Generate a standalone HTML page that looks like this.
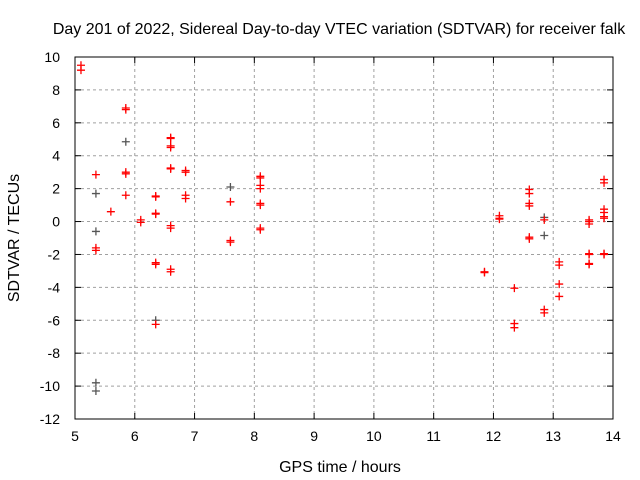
<!DOCTYPE html>
<html><head><meta charset="utf-8"><style>
body{margin:0;background:#fff}
svg{display:block;font-family:"Liberation Sans",sans-serif;font-size:14px}
.t{font-size:16px}
</style></head><body>
<svg id="c" width="640" height="480">
<text class="t" x="339" y="34" text-anchor="middle">Day 201 of 2022, Sidereal Day-to-day VTEC variation (SDTVAR) for receiver falk</text>
<text class="t" x="340" y="472" text-anchor="middle">GPS time / hours</text>
<text class="t" transform="translate(19,238) rotate(-90)" text-anchor="middle">SDTVAR / TECUs</text>
<g id="grid"></g><g id="marks"></g>
<rect x="75" y="57" width="538" height="362" fill="none" stroke="#000" stroke-width="1"/>
</svg>
<script>
const xTicks=[5,6,7,8,9,10,11,12,13,14];
const yTicks=[10,8,6,4,2,0,-2,-4,-6,-8,-10,-12];
const redX=[5.1,5.1,5.35,5.35,5.35,5.6,5.85,5.85,5.85,5.85,5.85,6.1,6.1,6.35,6.35,6.35,6.35,6.35,6.35,6.35,6.6,6.6,6.6,6.6,6.6,6.6,6.6,6.6,6.6,6.6,6.85,6.85,6.85,6.85,7.6,7.6,7.6,8.1,8.1,8.1,8.1,8.1,8.1,8.1,8.1,11.85,11.85,12.1,12.1,12.1,12.35,12.35,12.35,12.6,12.6,12.6,12.6,12.6,12.6,12.85,12.85,12.85,13.1,13.1,13.1,13.1,13.6,13.6,13.6,13.6,13.6,13.6,13.6,13.85,13.85,13.85,13.85,13.85,13.85,13.85,13.85];
const redY=[9.5,9.2,2.85,-1.6,-1.75,0.6,6.9,6.8,3.0,2.9,1.6,0.1,-0.05,1.55,1.5,0.5,0.45,-2.5,-2.6,-6.25,5.1,5.05,4.6,4.5,3.25,3.2,-0.25,-0.4,-2.9,-3.05,3.1,3.0,1.6,1.4,1.2,-1.15,-1.25,2.75,2.65,2.2,2.0,1.1,1.0,-0.4,-0.5,-3.05,-3.1,0.35,0.2,0.15,-4.05,-6.2,-6.45,1.95,1.7,1.1,0.95,-0.95,-1.05,0.1,-5.35,-5.55,-2.45,-2.65,-3.8,-4.55,0.1,0.0,-0.15,-1.95,-2.0,-2.55,-2.6,2.55,2.35,0.75,0.55,0.3,0.2,-1.95,-2.0];
const grayX=[5.35,5.35,5.35,5.35,5.85,6.35,7.6,12.85,12.85];
const grayY=[1.7,-0.6,-9.8,-10.3,4.85,-6.0,2.1,0.25,-0.85];
const X=v=>75+(v-5)*538/9, Y=v=>57+(10-v)*362/22;
const NS='http://www.w3.org/2000/svg';
const g=document.getElementById('grid'),m=document.getElementById('marks');
function el(t,a,p){const e=document.createElementNS(NS,t);for(const k in a)e.setAttribute(k,a[k]);p.appendChild(e);return e;}
xTicks.forEach(t=>{const x=X(t);
 if(t>5&&t<14){const l=el('line',{x1:x,y1:57,x2:x,y2:419,stroke:'#a0a0a0','stroke-dasharray':'3,3'},g);
 
 }
 el('line',{x1:x,y1:419,x2:x,y2:413,stroke:'#000'},g);el('line',{x1:x,y1:57,x2:x,y2:63,stroke:'#000'},g);
 const tx=el('text',{x:x,y:441,'text-anchor':'middle'},g);tx.textContent=t;
 
 });
yTicks.forEach(t=>{const y=Y(t);
 if(t<10&&t>-12){const l=el('line',{x1:75,y1:y,x2:613,y2:y,stroke:'#a0a0a0','stroke-dasharray':'3,3'},g);
 
 }
 el('line',{x1:75,y1:y,x2:81,y2:y,stroke:'#000'},g);el('line',{x1:613,y1:y,x2:607,y2:y,stroke:'#000'},g);
 const tx=el('text',{x:60,y:y+5,'text-anchor':'end'},g);tx.textContent=t;
 
 });
function plus(xv,yv,c,name){const x=X(xv),y=Y(yv);
 const p=el('path',{d:`M${x-4} ${y}H${x+4}M${x} ${y-4}V${y+4}`,stroke:c,'stroke-width':1.3,fill:'none'},m);
 
 }
grayX.forEach((v,i)=>plus(v,grayY[i],'#555','gray-point'));
redX.forEach((v,i)=>plus(v,redY[i],'#f00','red-point'));
</script>
</body></html>
